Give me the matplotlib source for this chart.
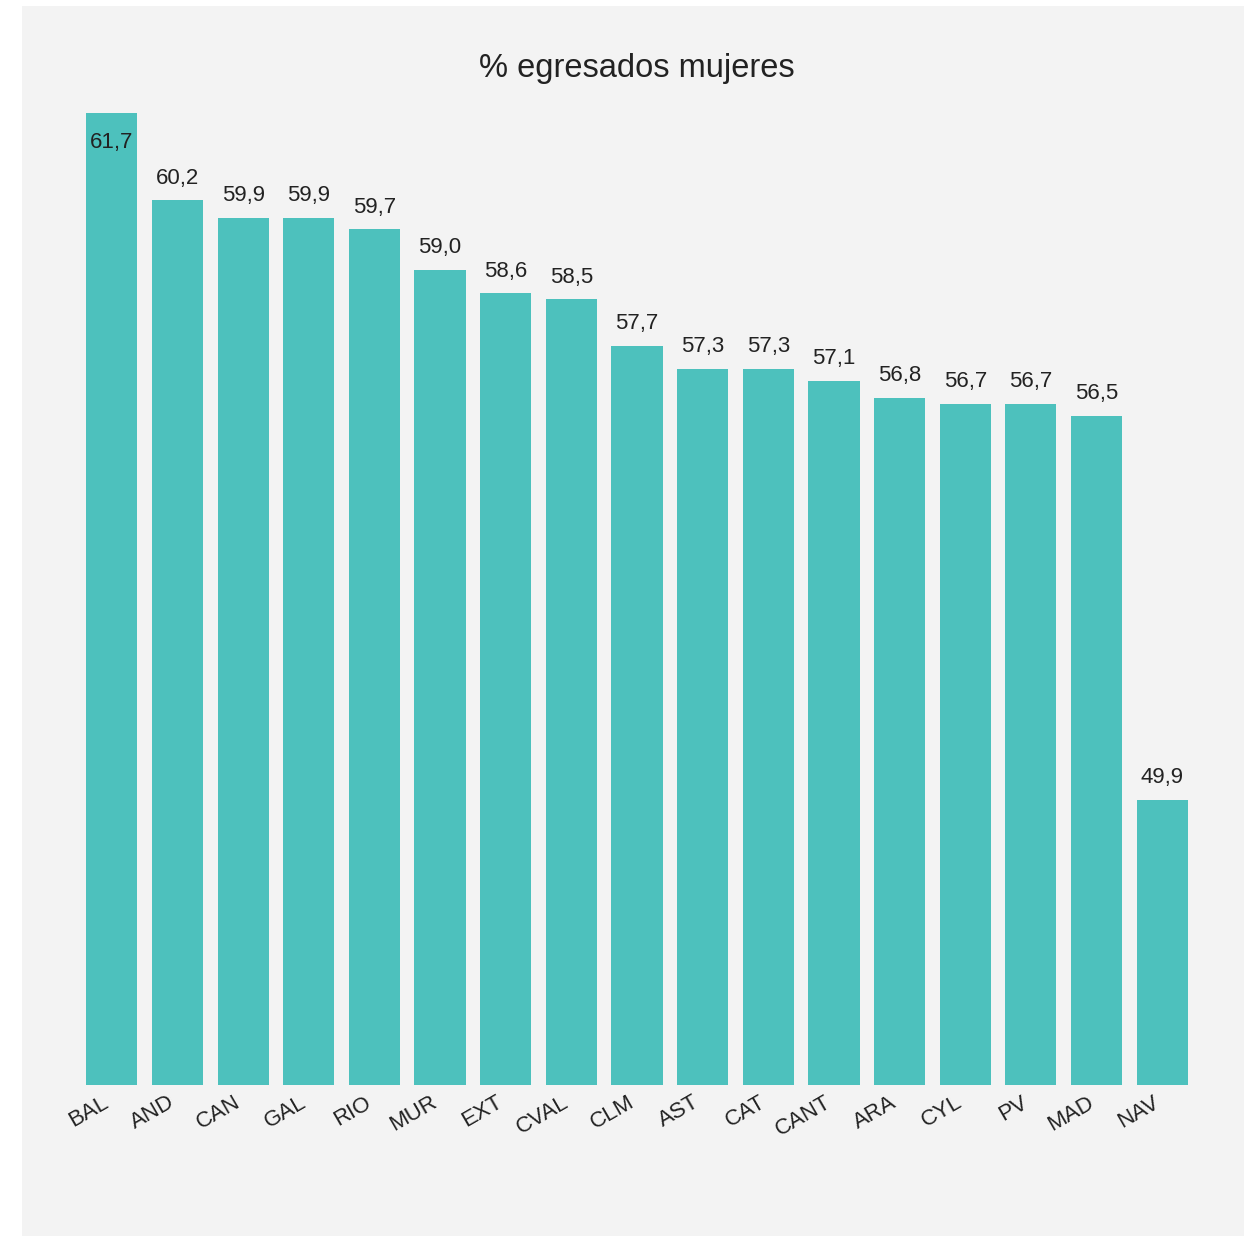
import matplotlib.pyplot as plt
import matplotlib.transforms as mtransforms
from matplotlib.patches import Rectangle

# data
regions = ['BAL', 'AND', 'CAN', 'GAL', 'RIO', 'MUR', 'EXT', 'CVAL', 'CLM',
           'AST', 'CAT', 'CANT', 'ARA', 'CYL', 'PV', 'MAD', 'NAV']
pct_women = [61.7, 60.2, 59.9, 59.9, 59.7, 59.0, 58.6, 58.5, 57.7,
             57.3, 57.3, 57.1, 56.8, 56.7, 56.7, 56.5, 49.9]

plt.rcParams['font.family'] = ['Liberation Sans', 'DejaVu Sans']

W, H = 1244, 1236
fig = plt.figure(figsize=(W / 100, H / 100), dpi=100)
fig.patch.set_facecolor('white')
panel = Rectangle((22 / W, 0), 1 - 22 / W, 1 - 6 / H, transform=fig.transFigure,
                  facecolor='#f3f3f3', edgecolor='none', zorder=-10)
fig.add_artist(panel)

ax = fig.add_axes([79 / W, 1 - 1085 / H, (1195 - 79) / W, (1085 - 113) / H])
ax.set_facecolor('none')
ax.set_zorder(5)

x = range(len(regions))
ax.bar(x, pct_women, width=0.78, color='#4dc1bd')
ax.set_xlim(-0.5, len(regions) - 0.5)
ax.set_ylim(45, max(pct_women))

for xi, v in zip(x, pct_women):
    txt = f'{v:.1f}'.replace('.', ',')
    if v >= max(pct_women):
        ax.annotate(txt, (xi, v), xytext=(0, -21), textcoords='offset points',
                    ha='center', va='center', fontsize=16, color='#222222')
    else:
        ax.annotate(txt, (xi, v), xytext=(0, 16), textcoords='offset points',
                    ha='center', va='center', fontsize=16, color='#222222')

ax.set_xticks(list(x))
ax.set_xticklabels(regions, rotation=30, ha='right', rotation_mode='anchor',
                   fontsize=16, color='#222222')
ax.tick_params(axis='x', length=0, pad=5)
shift = mtransforms.ScaledTranslation(-7 / 72, 0, fig.dpi_scale_trans)
for lbl in ax.get_xticklabels():
    lbl.set_transform(lbl.get_transform() + shift)
ax.set_yticks([])
for s in ax.spines.values():
    s.set_visible(False)

fig.text(637 / W, 1 - 68 / H, '% egresados mujeres', ha='center', va='center',
         fontsize=23.5, color='#222222')

fig.savefig('out.png', dpi=100)
